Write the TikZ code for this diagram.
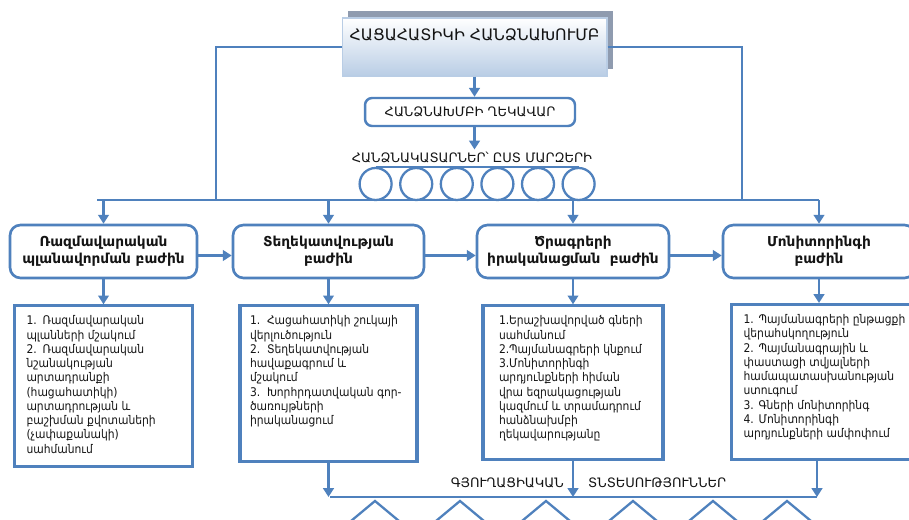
\documentclass[tikz,border=0pt]{standalone}
\usepackage{fontspec}
\setmainfont{DejaVu Sans}
\newfontfamily\condfont{DejaVu Sans Condensed}
\usetikzlibrary{positioning, shadows, arrows.meta}

\definecolor{bleu}{HTML}{4F81BD}
\definecolor{bleuclair}{HTML}{B9CDE5}
\definecolor{ombre}{HTML}{8F9BAF}
\definecolor{texte}{HTML}{141414}

\newlength{\retrait}
\newcommand{\numero}[2]{\par\noindent\hangindent=\retrait\hangafter=1\makebox[\retrait][l]{#1}#2}

\begin{document}
\begin{tikzpicture}[x=0.02cm, y=-0.02cm, every node/.append style={text=texte}]
        % Style des noeuds
        \tikzstyle{titrebox} = [rectangle, draw=bleuclair, line width=0.6pt, top color=white, bottom color=bleuclair, drop shadow={shadow xshift=0.12cm, shadow yshift=0.14cm, fill=ombre, opacity=1}, minimum width=5.3cm, inner ysep=3pt, text height=10pt, text depth=17pt, font=\fontsize{9}{11}\selectfont]
        \tikzstyle{chefbox} = [rectangle, rounded corners=4pt, draw=bleu, line width=1.4pt, fill=white, minimum width=4.2cm, minimum height=0.56cm, font=\fontsize{7.4}{9}\selectfont]
        \tikzstyle{service} = [rectangle, rounded corners=6pt, draw=bleu, line width=1.5pt, fill=white, minimum height=1.06cm, align=center, font=\bfseries\fontsize{7.8}{9.5}\selectfont]
        \tikzstyle{liste} = [rectangle, draw=bleu, line width=1.8pt, fill=white, inner xsep=0.24cm, inner ysep=0.2cm, font=\condfont\fontsize{6.8}{8.1}\selectfont]
        \tikzstyle{cercle} = [circle, draw=bleu, line width=1.3pt, minimum size=0.64cm, inner sep=0pt]
        \tikzstyle{etiquette} = [font=\fontsize{7.4}{9}\selectfont, inner sep=1pt]
        \tikzstyle{ligne} = [draw=bleu, line width=1.3pt]
        \tikzstyle{fleche} = [ligne, ->, >={Triangle[length=5pt, width=6pt]}]

        \path[use as bounding box, fill=white] (0,0) rectangle (909,520);

        % Direction
        \node (titre) [titrebox] at (474.5,47) {ՀԱՑԱՀԱՏԻԿԻ ՀԱՆՁՆԱԽՈՒՄԲ};
        \node (chef) [chefbox] at (470,112) {ՀԱՆՁՆԱԽՄԲԻ ՂԵԿԱՎԱՐ};
        \node (exec) [etiquette] at (472,157) {ՀԱՆՁՆԱԿԱՏԱՐՆԵՐ՝ ԸՍՏ ՄԱՐԶԵՐԻ};
        \foreach \i in {1,...,6}
            \node (c\i) [cercle] at (335+40.6*\i,184) {};

        % Bajiner
        \node (d1) [service, minimum width=3.74cm] at (103.5,251.5) {Ռազմավարական\\պլանավորման բաժին};
        \node (d2) [service, minimum width=3.82cm] at (328.5,251.5) {Տեղեկատվության\\բաժին};
        \node (d3) [service, minimum width=3.84cm] at (573,251.5) {Ծրագրերի\\իրականացման~~բաժին};
        \node (d4) [service, minimum width=3.84cm] at (819,251.5) {Մոնիտորինգի\\բաժին};

        % Gortsarutyunner
        \node (l1) [liste, below=0.5cm of d1] {\parbox[t][2.82cm][t]{3.08cm}{\setlength{\retrait}{0.32cm}\raggedright
            \numero{1.}{Ռազմավարական\\պլանների մշակում}
            \numero{2.}{Ռազմավարական\\նշանակության\\արտադրանքի\\(հացահատիկի)\\արտադրության և\\բաշխման քվոտաների\\(չափաքանակի)\\սահմանում}}};
        \node (l2) [liste, inner xsep=0.2cm, below=0.5cm of d2] {\parbox[t][2.72cm][t]{3.14cm}{\setlength{\retrait}{0.34cm}\raggedright
            \numero{1.}{Հացահատիկի շուկայի\\վերլուծություն}
            \numero{2.}{Տեղեկատվության\\հավաքագրում և\\մշակում}
            \numero{3.}{Խորհրդատվական գոր-\\ծառույթների\\իրականացում}}};
        \node (l3) [liste, inner xsep=0.32cm, below=0.5cm of d3] {\parbox[t][2.68cm][t]{2.96cm}{\setlength{\retrait}{0.2cm}\raggedright
            \numero{1.}{Երաշխավորված գների\\սահմանում}
            \numero{2.}{Պայմանագրերի կնքում}
            \numero{3.}{Մոնիտորինգի\\արդյունքների հիման\\վրա եզրակացության\\կազմում և տրամադրում\\հանձնախմբի\\ղեկավարությանը}}};
        \node (l4) [liste, anchor=north west] at (730,303) {\parbox[t][2.7cm][t]{3.6cm}{\setlength{\retrait}{0.3cm}\raggedright
            \numero{1.}{Պայմանագրերի ընթացքի\\վերահսկողություն}
            \numero{2.}{Պայմանագրային և\\փաստացի տվյալների\\համապատասխանության\\ստուգում}
            \numero{3.}{Գների մոնիտորինգ}
            \numero{4.}{Մոնիտորինգի\\արդյունքների ամփոփում}}};

        % Tntesutyunner
        \node (mot1) [etiquette, anchor=east] at (566,483) {ԳՅՈՒՂԱՑԻԱԿԱՆ};
        \node (mot2) [etiquette, anchor=west] at (586,483) {ՏՆՏԵՍՈՒԹՅՈՒՆՆԵՐ};
        \foreach \x in {375,460,546,633,713,787}
            \draw[ligne] (\x-42,536) -- (\x,501) -- (\x+42,536) -- cycle;

        % Flèches
        \coordinate (g) at (216,200);
        \coordinate (d) at (742,200);
        \coordinate (bus) at (97,200);
        \coordinate (bas) at (330,497);
        \coordinate (fin) at (817,497);
        \draw[ligne] (titre.west) -| (g);
        \draw[ligne] (titre.east) -| (d);
        \draw[fleche] (titre.south) -- (titre.south |- chef.north);
        \draw[fleche] (chef.south -| titre.south) -- (exec.north -| titre.south);
        \draw[ligne] (c1.north) -- (c6.north);
        \draw[ligne] (bus) -- (bus -| d4.north);
        \foreach \n in {d1,d2,d3,d4}
            \draw[fleche] (\n.north |- bus) -- (\n.north);
        \draw[fleche] ([yshift=-0.08cm]d1.east) -- ([yshift=-0.08cm]d2.west);
        \draw[fleche] ([yshift=-0.08cm]d2.east) -- ([yshift=-0.08cm]d3.west);
        \draw[fleche] ([yshift=-0.08cm]d3.east) -- ([yshift=-0.08cm]d4.west);
        \foreach \n in {1,2,3}
            \draw[fleche] (d\n) -- (l\n);
        \draw[fleche] (d4.south) -- (d4.south |- l4.north);
        \draw[ligne] (bas) -- (fin);
        \foreach \n in {l2,l3}
            \draw[fleche] (\n.south) -- (\n.south |- bas);
        \draw[fleche] (fin |- l4.south) -- (fin);
\end{tikzpicture}
\end{document}
